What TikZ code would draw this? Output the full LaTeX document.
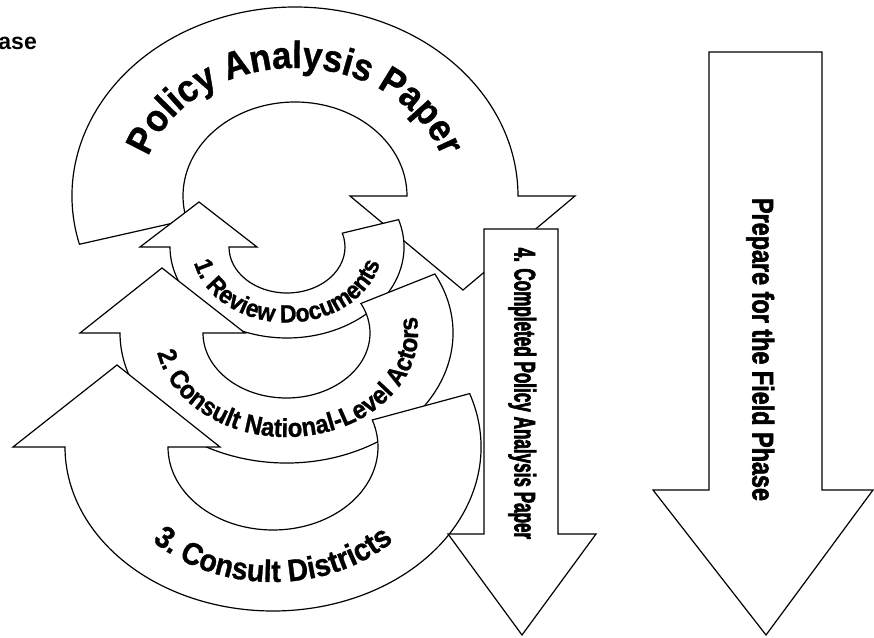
\documentclass[tikz,border=0pt]{standalone}
\usepackage{fontspec}
\setmainfont{Liberation Sans}
\newfontfamily\arcfont[FakeStretch=0.92, FakeBold=1]{Liberation Sans}
\newfontfamily\fieldfont[FakeStretch=0.78, FakeBold=2]{Liberation Sans}
\newfontfamily\paperfont[FakeStretch=0.57, FakeBold=2]{Liberation Sans}
\usetikzlibrary{decorations.text,calc}
\tikzset{
  blockarrow/.style={draw=black, fill=white, line width=1.2pt, line join=miter},
  vlabel/.style={rotate=-90, anchor=base, inner sep=0pt},
}
\begin{document}
\begin{tikzpicture}[x=1pt,y=1pt]
\useasboundingbox (0,0) rectangle (874,637);

% clipped heading at the top left
\node[anchor=base east, inner sep=0pt] (heading) at (37,587) {\fontsize{23}{27}\selectfont\bfseries ase};

% big loop: Policy Analysis Paper
\draw[blockarrow] (295,441) ++(194.8:223 and 189)
  arc[start angle=194.8, end angle=0, x radius=223, y radius=189]
  -- (575,441) -- (463,347) -- (350,441) -- (407,441)
  arc[start angle=0, end angle=194.8, x radius=112, y radius=94] -- cycle;
\path[decorate, decoration={text along path, text align=center,
  text={|\fontsize{38}{44}\arcfont\bfseries|Policy Analysis Paper}}]
  (141,441) arc[start angle=180, end angle=0, x radius=154, y radius=128];

% step 1
\draw[blockarrow] (287,390) ++(17.5:117 and 91)
  arc[start angle=17.5, end angle=-180, x radius=117, y radius=91]
  -- (140,390) -- (199,435) -- (257,390) -- (229,390)
  arc[start angle=180, end angle=377.5, x radius=58, y radius=46] -- cycle;
\path[decorate, decoration={text along path, text align=center,
  text={|\fontsize{25}{30}\arcfont\bfseries|1. Review Documents}}]
  (192,390) arc[start angle=180, end angle=360, x radius=95, y radius=75.5];

% step 2
\draw[blockarrow] (286.5,304) ++(27:166.5 and 130)
  arc[start angle=27, end angle=-180, x radius=166.5, y radius=130]
  -- (80,304) -- (162,369) -- (245,304) -- (203,304)
  arc[start angle=180, end angle=387, x radius=83.5, y radius=65] -- cycle;
\path[decorate, decoration={text along path, text align=center,
  text={|\fontsize{26}{31}\arcfont\bfseries|2. Consult National-Level Actors}}]
  ($(286.5,304)+(190:131.5 and 104)$) arc[start angle=190, end angle=370, x radius=131.5, y radius=104];

% step 3
\draw[blockarrow] (273,190) ++(19:208 and 164)
  arc[start angle=19, end angle=-180, x radius=208, y radius=164]
  -- (13,190) -- (117,272) -- (220,190) -- (168,190)
  arc[start angle=180, end angle=379, x radius=105, y radius=83] -- cycle;
\path[decorate, decoration={text along path, text align=center,
  text={|\fontsize{31}{37}\arcfont\bfseries|3. Consult Districts}}]
  (105,190) arc[start angle=180, end angle=360, x radius=168, y radius=135];

% step 4: completed paper
\draw[blockarrow] (484,408) -- (558,408) -- (558,103) -- (596,103) -- (522,2) -- (448,103) -- (484,103) -- cycle;
\node[vlabel] (completed) at (514.5,243.5) {\fontsize{30}{35}\paperfont\bfseries 4. Completed Policy Analysis Paper};

% next phase
\draw[blockarrow] (709,585) -- (822,585) -- (822,147) -- (873,147) -- (766,2) -- (653,147) -- (709,147) -- cycle;
\node[vlabel] (field) at (752.5,287.5) {\fontsize{30}{35}\fieldfont\bfseries Prepare for the Field Phase};
\end{tikzpicture}
\end{document}
